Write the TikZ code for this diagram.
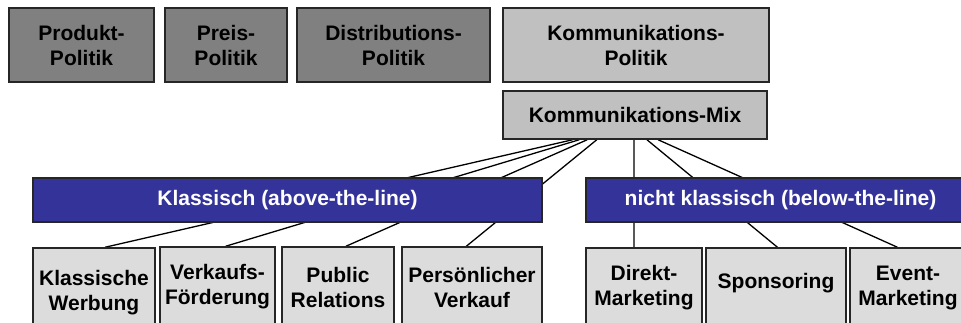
\documentclass[tikz,border=0pt]{standalone}
\usepackage{fontspec}
\setmainfont{Liberation Sans}
\usetikzlibrary{calc}
\usetikzlibrary{backgrounds}
\definecolor{darkgrey}{HTML}{808080}
\definecolor{midgrey}{HTML}{C0C0C0}
\definecolor{lightgrey}{HTML}{DCDCDC}
\definecolor{barblue}{HTML}{333399}

\begin{document}
\begin{tikzpicture}[x=1pt,y=-1pt,
    box/.style={draw=black!85,line width=1.5pt,inner sep=0pt,align=center,
        font=\fontsize{21}{25}\selectfont\bfseries},
    polbox/.style={box,fill=darkgrey,minimum height=74},
    bar/.style={box,fill=barblue,text=white,minimum height=44},
    toolbox/.style={box,fill=lightgrey,minimum height=80},
    link/.style={line width=1.3pt}]
        \useasboundingbox (0,0) rectangle (961,323);

        % marketing mix
        \node[polbox,minimum width=145] (prod) at (81.5,45) {Produkt-\\Politik};
        \node[polbox,minimum width=122] (preis) at (226,45) {Preis-\\Politik};
        \node[polbox,minimum width=193] (dist) at (393.5,45) {Distributions-\\Politik};
        \node[polbox,fill=midgrey,minimum width=266] (kom) at (636,45) {Kommunikations-\\Politik};
        \node[box,fill=midgrey,minimum width=264,minimum height=48] (mix) at (635,115) {Kommunikations-Mix};

        % the two groups
        \node[bar,minimum width=509] (klass) at (287.5,200) {Klassisch (above-the-line)};
        \node[bar,minimum width=389] (nklass) at (780.5,200) {nicht klassisch (below-the-line)};

        % instruments
        \node[toolbox,minimum width=122,minimum height=90] (werb) at (94,293) {Klassische\\Werbung};
        \node[toolbox,minimum width=115] (vkf) at (217.5,287) {Verkaufs-\\Förderung};
        \node[toolbox,minimum width=112] (pr) at (338,287) {Public\\Relations};
        \node[toolbox,minimum width=140] (pv) at (472,287) {Persönlicher\\Verkauf};
        \node[toolbox,minimum width=116] (dm) at (644,288) {Direkt-\\Marketing};
        \node[toolbox,minimum width=140,text height=6pt] (spons) at (776,288) {Sponsoring};
        \node[toolbox,minimum width=116] (event) at (908,288) {Event-\\Marketing};

        \begin{scope}[on background layer]
        \draw[link] ($(mix.south west)!0.265!(mix.south east)$) -- ($(werb.north west)!0.59!(werb.north east)$);
        \draw[link] ($(mix.south west)!0.29!(mix.south east)$) -- ($(vkf.north west)!0.57!(vkf.north east)$);
        \draw[link] ($(mix.south west)!0.32!(mix.south east)$) -- ($(pr.north west)!0.57!(pr.north east)$);
        \draw[link] ($(mix.south west)!0.356!(mix.south east)$) -- ($(pv.north west)!0.46!(pv.north east)$);
        \draw[link] ($(mix.south west)!0.496!(mix.south east)$) -- ($(dm.north west)!0.414!(dm.north east)$);
        \draw[link] ($(mix.south west)!0.545!(mix.south east)$) -- ($(spons.north west)!0.51!(spons.north east)$);
        \draw[link] ($(mix.south west)!0.587!(mix.south east)$) -- ($(event.north west)!0.41!(event.north east)$);
        \end{scope}
    \end{tikzpicture}
\end{document}
